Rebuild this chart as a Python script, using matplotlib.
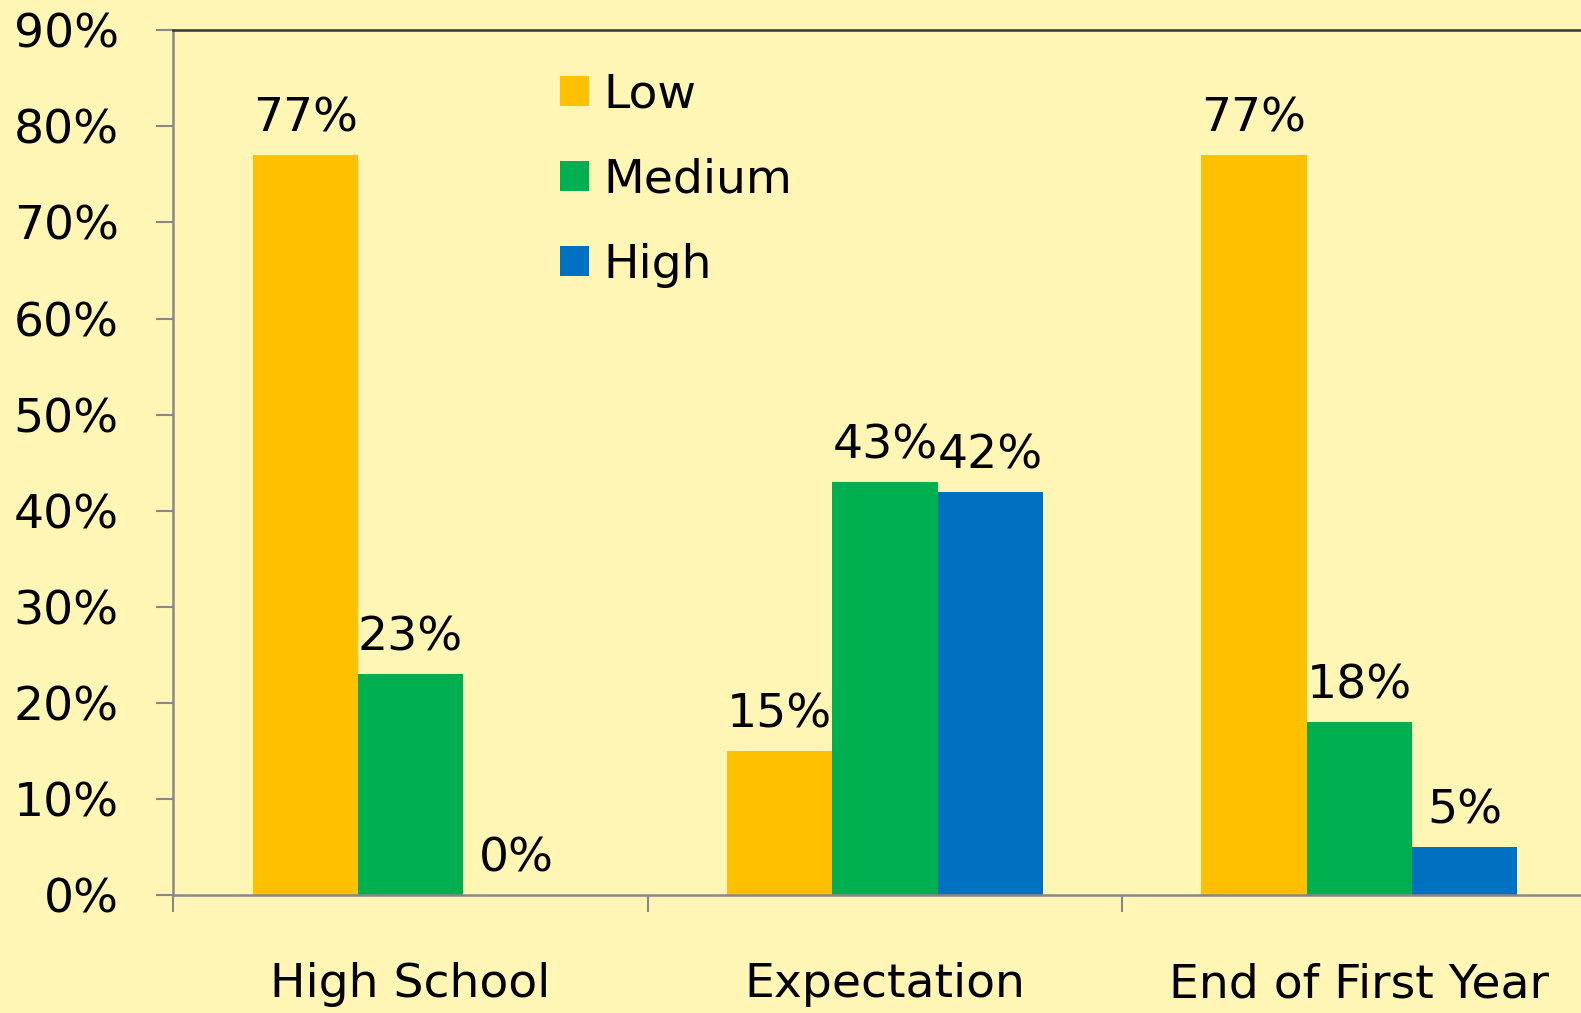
import matplotlib.pyplot as plt
import numpy as np

kategori = ["High School", "Expectation", "End of First Year"]
rendah = [0.77, 0.15, 0.77]
sedang = [0.23, 0.43, 0.18]
tinggi = [0.00, 0.42, 0.05]
label_seri = ["Low", "Medium", "High"]
warna = ["#FFC000", "#00B050", "#0070C0"]
yticks = [0, 0.1, 0.2, 0.3, 0.4, 0.5, 0.6, 0.7, 0.8, 0.9]

bg = "#FFF5B5"
plt.rcParams['font.family'] = ['DejaVu Sans']

W, H = 1581, 1013
fig = plt.figure(figsize=(W / 100, H / 100), dpi=100, facecolor=bg)
# posisi sumbu dalam piksel
kiri, bawah, atas, lebar_grup = 173.4, 895.4, 30.2, 474.4
ax = fig.add_axes([kiri / W, 1 - bawah / H, 3 * lebar_grup / W, (bawah - atas) / H])
ax.set_facecolor(bg)

x = np.arange(len(kategori))
lebar = 0.222
for i, (data, lab, c) in enumerate(zip([rendah, sedang, tinggi], label_seri, warna)):
    pos = x + (i - 1) * lebar
    ax.bar(pos, data, lebar, color=c, label=lab)
    for px, v in zip(pos, data):
        ax.text(px, v + 0.014, f"{v*100:.0f}%", ha="center", va="bottom", fontsize=34)

ax.set_xlim(-0.5, 2.5)
ax.set_ylim(0, 0.9)
ax.set_yticks(yticks)
ax.set_yticklabels([f"{v*100:.0f}%" for v in yticks], fontsize=34)
ax.set_xticks(x)
ax.set_xticklabels(kategori, fontsize=34)
ax.set_xticks([-0.5, 0.5, 1.5, 2.5], minor=True)
ax.tick_params(axis="x", which="major", length=0, pad=48)
ax.tick_params(axis="x", which="minor", length=12.4, width=1.5, color="#888888", direction="out")
ax.tick_params(axis="y", length=12.4, width=1.5, color="#888888", pad=27)

for s in ["left", "bottom"]:
    ax.spines[s].set_color("#888888")
    ax.spines[s].set_linewidth(1.8)
ax.spines["top"].set_color("#333333")
ax.spines["top"].set_linewidth(1.8)
ax.spines["right"].set_visible(False)

ax.legend(loc="upper left", bbox_to_anchor=(0.242, 1.0), frameon=False, fontsize=34,
          handlelength=0.6, handleheight=0.6, handletextpad=0.32, labelspacing=0.85)

plt.savefig("out.png", dpi=100, facecolor=bg)
